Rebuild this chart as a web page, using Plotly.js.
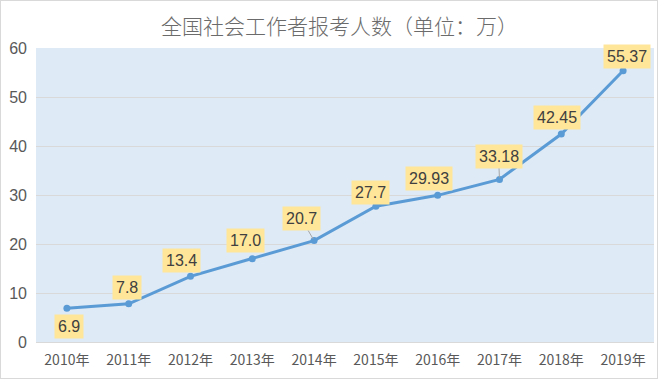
<!DOCTYPE html>
<html>
<head>
<meta charset="utf-8">
<script src="https://cdn.plot.ly/plotly-3.0.1.min.js"></script>
<style>
html,body{margin:0;padding:0;background:#fff;}
#chart{width:658px;height:379px;box-sizing:border-box;border:1px solid #d9d9d9;}
</style>
</head>
<body>
<div id="chart"></div>
<script>
const years = ["2010年","2011年","2012年","2013年","2014年","2015年","2016年","2017年","2018年","2019年"];
const applicants = [6.9, 7.8, 13.4, 17.0, 20.7, 27.7, 29.93, 33.18, 42.45, 55.37];
const labelTexts = ["6.9","7.8","13.4","17.0","20.7","27.7","29.93","33.18","42.45","55.37"];

// label placement offsets (pixels) relative to each point
const offX = [2, -2, -9, -7, -13, -5, -9, -1, -4, 4];
const offY = [-18, 16, 16, 18, 22, 14, 17, 23, 16, 14];
const leader = [false, false, false, false, true, false, false, true, false, false];

const annotations = years.map((yr, i) => {
  const a = {
    x: yr, y: applicants[i], xref: 'x', yref: 'y',
    text: labelTexts[i],
    font: {family: 'Liberation Sans, Arial, sans-serif', size: 16, color: '#404040'},
    bgcolor: '#FFE699',
    borderpad: 3,
  };
  if (leader[i]) {
    a.showarrow = true; a.arrowhead = 0; a.arrowwidth = 1; a.arrowcolor = '#A6A6A6';
    a.ax = offX[i]; a.ay = -offY[i];
    a.standoff = 2;
  } else {
    a.showarrow = false; a.xshift = offX[i]; a.yshift = offY[i];
  }
  return a;
});

const trace = {
  x: years, y: applicants, type: 'scatter', mode: 'lines+markers',
  line: {color: '#5B9BD5', width: 3},
  marker: {color: '#5B9BD5', size: 7},
  hoverinfo: 'skip'
};

const layout = {
  width: 656, height: 377,
  margin: {l: 35, r: 3, t: 47, b: 36},
  paper_bgcolor: '#ffffff',
  plot_bgcolor: '#DEEAF6',
  showlegend: false,
  title: {text: '全国社会工作者报考人数（单位：万）', x: 0.516, xanchor: 'center', y: 0.932, yanchor: 'middle',
    font: {family: 'Noto Sans CJK SC, sans-serif', size: 21, color: '#6b6b6b', weight: 300}},
  xaxis: {type: 'category', range: [-0.5, 9.5], showgrid: false, zeroline: false,
    showline: false, ticks: '', ticklabelstandoff: 8,
    tickfont: {family: 'Noto Sans CJK SC, sans-serif', size: 14, color: '#595959'}, fixedrange: true},
  yaxis: {range: [0, 60], dtick: 10, showgrid: true, gridcolor: '#D9D9D9', gridwidth: 1, zeroline: true, zerolinecolor: '#D9D9D9',
    showline: false, ticks: '', ticklabelstandoff: 8,
    tickfont: {family: 'Liberation Sans, Arial, sans-serif', size: 16, color: '#595959'}, fixedrange: true},
  annotations: annotations
};

Plotly.newPlot('chart', [trace], layout, {displayModeBar: false, staticPlot: true});
</script>
</body>
</html>
